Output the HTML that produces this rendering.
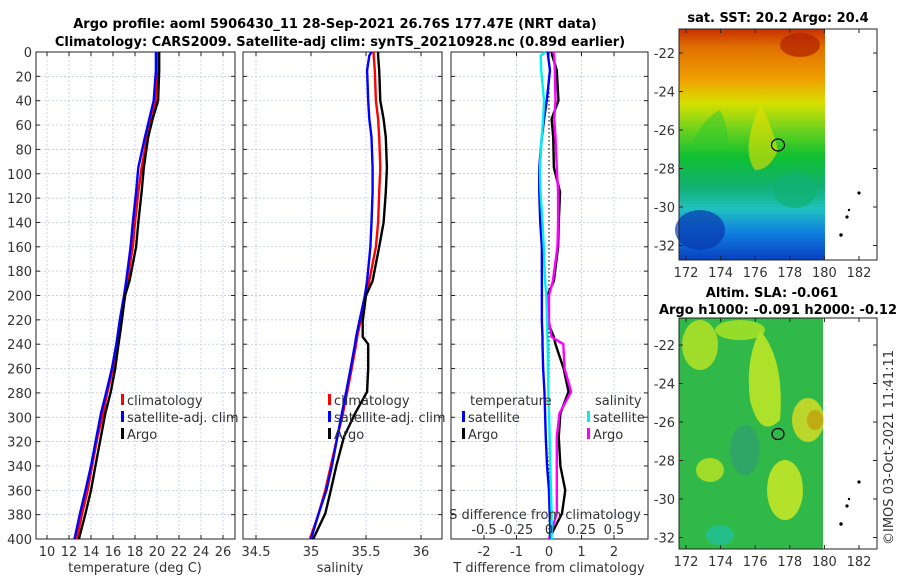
<!DOCTYPE html>
<html><head><meta charset="utf-8">
<style>
body{margin:0;background:#fff;}
svg{display:block;font-family:"DejaVu Sans","Liberation Sans",sans-serif;}
.t{font-size:13px;fill:#333;}
.b{font-size:13px;font-weight:bold;fill:#000;}
.grid{stroke:#b8c0e0;stroke-width:0.7;stroke-dasharray:2,2;}
</style></head><body>
<svg id="fig" width="900" height="580" viewBox="0 0 900 580">
<defs>
<linearGradient id="sstg" x1="0" y1="0" x2="0" y2="1">
<stop offset="0" stop-color="#c83000"/><stop offset="0.08" stop-color="#e07000"/><stop offset="0.22" stop-color="#f0a000"/>
<stop offset="0.32" stop-color="#d8e000"/><stop offset="0.45" stop-color="#60d020"/><stop offset="0.55" stop-color="#10c030"/>
<stop offset="0.68" stop-color="#10b070"/><stop offset="0.78" stop-color="#20c0c0"/><stop offset="0.88" stop-color="#1080e0"/><stop offset="1" stop-color="#0840c0"/>
</linearGradient>
</defs>
<text class="b" x="335" y="28" text-anchor="middle">Argo profile: aoml 5906430_11 28-Sep-2021 26.76S 177.47E (NRT data)</text>
<text class="b" x="340" y="46" text-anchor="middle">Climatology: CARS2009. Satellite-adj clim: synTS_20210928.nc (0.89d earlier)</text>
<g id="p1"></g>
<g id="p2"></g>
<g id="p3"></g>

<!-- SST map -->
<g>
<text class="b" x="778" y="22" text-anchor="middle">sat. SST: 20.2 Argo: 20.4</text>
<rect x="679" y="29" width="146" height="231" fill="url(#sstg)"/>
<ellipse cx="700" cy="230" rx="25" ry="20" fill="#0838b0" opacity="0.7"/>
<ellipse cx="795" cy="190" rx="22" ry="18" fill="#10b070" opacity="0.7"/>
<path d="M760 105 Q770 120 778 150 Q770 170 755 170 Q740 150 760 105Z" fill="#e8e000" opacity="0.6"/>
<path d="M720 110 Q730 130 728 150 L690 150 Q700 120 720 110Z" fill="#30c830" opacity="0.5"/>
<ellipse cx="800" cy="45" rx="20" ry="12" fill="#b02000" opacity="0.7"/>
<ellipse cx="778" cy="145" rx="6.5" ry="6" fill="none" stroke="#000" stroke-width="1.2"/>
<g fill="#000"><circle cx="859" cy="193" r="1.6"/><circle cx="849" cy="210" r="1.2"/><circle cx="847" cy="217" r="1.6"/><circle cx="841" cy="235" r="1.7"/></g>
<rect x="679" y="29" width="198" height="231" fill="none" stroke="#222" stroke-width="1"/>
<g id="m1ax"></g>
</g>

<!-- SLA map -->
<g>
<text class="b" x="772" y="297" text-anchor="middle">Altim. SLA: -0.061</text>
<text class="b" x="778" y="314" text-anchor="middle">Argo h1000: -0.091 h2000: -0.12</text>
<rect x="679" y="318" width="144" height="231" fill="#30b848"/>
<g opacity="0.75">
<ellipse cx="700" cy="345" rx="18" ry="25" fill="#c8e820"/>
<ellipse cx="740" cy="330" rx="25" ry="10" fill="#b8e820"/>
<path d="M760 330 Q785 360 780 420 Q760 440 750 400 Q745 360 760 330Z" fill="#d8f020"/>
<ellipse cx="808" cy="420" rx="16" ry="22" fill="#e8e020"/>
<ellipse cx="815" cy="420" rx="8" ry="10" fill="#f0a800"/>
<ellipse cx="710" cy="470" rx="14" ry="12" fill="#c8e820"/>
<ellipse cx="785" cy="490" rx="18" ry="30" fill="#e0f020"/>
<ellipse cx="720" cy="535" rx="14" ry="10" fill="#20c0a0"/>
<ellipse cx="745" cy="450" rx="15" ry="25" fill="#30a070"/>
</g>
<ellipse cx="778" cy="434" rx="6" ry="5.5" fill="none" stroke="#000" stroke-width="1.2"/>
<g fill="#000"><circle cx="859" cy="482" r="1.6"/><circle cx="849" cy="499" r="1.2"/><circle cx="847" cy="506" r="1.6"/><circle cx="841" cy="524" r="1.7"/></g>
<rect x="679" y="318" width="198" height="231" fill="none" stroke="#222" stroke-width="1"/>
<g id="m2ax"></g>
</g>
<text class="t" x="893" y="545" transform="rotate(-90 893 545)">©IMOS 03-Oct-2021 11:41:11</text>
</svg>
<script>
// ---- data ----
const depthTicks=[0,20,40,60,80,100,120,140,160,180,200,220,240,260,280,300,320,340,360,380,400];
const tempTicks=[10,12,14,16,18,20,22,24,26];
const salTicks=[34.5,35,35.5,36];
const tdiffTicks=[-2,-1,0,1,2];
const sdiffTickLabels=["-0.5","-0.25","0","0.25","0.5"];
const sdiffTicks=[-0.5,-0.25,0,0.25,0.5];
const depths=[0,3,15,40,55,70,95,115,140,160,188,200,221,234,240,260,279,297,316,340,360,379,400];
const tempArgo=[20.2,20.2,20.2,20.1,19.6,19.2,18.8,18.6,18.3,18.1,17.5,17.1,16.8,16.6,16.5,16.2,15.8,15.3,14.9,14.4,14.0,13.5,12.9];
const tempClim=[20.0,20.0,20.0,19.9,19.5,19.1,18.6,18.3,18.0,17.8,17.3,17.1,16.7,16.5,16.4,16.0,15.5,15.1,14.6,14.1,13.7,13.2,12.7];
const tempSat=[19.9,19.9,19.9,19.7,19.3,18.9,18.3,18.1,17.8,17.6,17.2,17.0,16.6,16.4,16.3,15.9,15.4,14.9,14.5,14.0,13.5,13.0,12.5];
const salArgo=[35.61,35.61,35.62,35.63,35.66,35.68,35.69,35.68,35.66,35.62,35.56,35.50,35.47,35.47,35.52,35.52,35.51,35.40,35.30,35.23,35.18,35.13,35.02];
const salClim=[35.57,35.57,35.58,35.59,35.61,35.62,35.63,35.62,35.61,35.59,35.53,35.50,35.45,35.42,35.41,35.37,35.33,35.29,35.24,35.18,35.13,35.07,34.99];
const salSat=[35.55,35.53,35.51,35.52,35.53,35.55,35.56,35.56,35.55,35.54,35.51,35.49,35.44,35.41,35.40,35.36,35.32,35.28,35.24,35.19,35.14,35.07,35.00];
const tdiffArgo=[0.08,0.1,0.24,0.29,0.08,0.13,0.15,0.34,0.3,0.28,0.15,-0.05,-0.05,0.15,0.2,0.45,0.6,0.35,0.3,0.35,0.5,0.4,0.0];
const tdiffSat=[-0.04,-0.03,0.03,-0.07,-0.15,-0.22,-0.3,-0.3,-0.27,-0.22,-0.22,-0.22,-0.22,-0.2,-0.2,-0.18,-0.14,-0.12,-0.1,-0.06,0.0,0.02,0.05];
const sdiffArgo=[0.033,0.04,0.045,0.05,0.04,0.05,0.06,0.07,0.07,0.065,0.03,0.0,0.0,0.02,0.11,0.12,0.17,0.08,0.06,0.06,0.06,0.06,0.0];
const sdiffSat=[-0.03,-0.064,-0.06,-0.038,-0.045,-0.056,-0.07,-0.065,-0.05,-0.04,-0.03,-0.02,-0.015,-0.012,-0.01,-0.008,-0.005,0.0,0.005,0.01,0.015,0.02,0.02];
const lonTicks=[172,174,176,178,180,182];
const latTicks=[-22,-24,-26,-28,-30,-32];

const NS='http://www.w3.org/2000/svg';
function mk(tag,attrs,parent,txt){const e=document.createElementNS(NS,tag);for(const k in attrs)e.setAttribute(k,attrs[k]);if(txt!==undefined)e.textContent=txt;parent.appendChild(e);return e;}
const Y0=52,Y1=539;
const yD=d=>Y0+(Y1-Y0)*d/400;

function panel(g,x0,x1,xs,xticks,xlabels,showY){
  depthTicks.forEach(d=>{
    const l=mk('line',{x1:x0,x2:x1,y1:yD(d),y2:yD(d),class:'grid'},g);
    
    
    mk('line',{x1:x0,x2:x0+4,y1:yD(d),y2:yD(d),stroke:'#222'},g);
    mk('line',{x1:x1-4,x2:x1,y1:yD(d),y2:yD(d),stroke:'#222'},g);
    if(showY){const t=mk('text',{x:x0-4,y:yD(d)+5,'text-anchor':'end',class:'t'},g,String(d));
      
      }
  });
  xticks.forEach((v,i)=>{
    const x=xs(v);
    mk('line',{x1:x,x2:x,y1:Y0,y2:Y1,class:'grid'},g);
    mk('line',{x1:x,x2:x,y1:Y1-4,y2:Y1,stroke:'#222'},g);
    mk('line',{x1:x,x2:x,y1:Y0,y2:Y0+4,stroke:'#222'},g);
    if(xlabels){const t=mk('text',{x:x,y:556,'text-anchor':'middle',class:'t'},g,xlabels[i]);
      
      }
  });
  mk('rect',{x:x0,y:Y0,width:x1-x0,height:Y1-Y0,fill:'none',stroke:'#222'},g);
}
function line(g,vals,xs,color,name){
  const p=mk('polyline',{points:vals.map((v,i)=>xs(v)+','+yD(depths[i])).join(' '),fill:'none',stroke:color,'stroke-width':2.4,'stroke-linejoin':'round'},g);
  
  
}
function legend(g,x,y,items){
  items.forEach((it,i)=>{
    mk('rect',{x:x,y:y+i*17-11,width:3,height:11,fill:it[1]},g);
    const t=mk('text',{x:x+6,y:y+i*17,class:'t'},g,it[0]);
    
    
  });
}
// panel 1
const g1=document.getElementById('p1');
const xT=v=>47+(v-10)*11;
panel(g1,36,235,xT,tempTicks,tempTicks.map(String),true);
line(g1,tempClim,xT,'#f00','temp-climatology-line');
line(g1,tempSat,xT,'#00f','temp-satellite-line');
line(g1,tempArgo,xT,'#000','temp-argo-line');
legend(g1,121,405,[['climatology','#f00'],['satellite-adj. clim','#00f'],['Argo','#000']]);
mk('text',{x:135,y:572,'text-anchor':'middle',class:'t',},g1,'temperature (deg C)');
// panel 2
const g2=document.getElementById('p2');
const xS=v=>311+(v-35)*110;
panel(g2,243,442,xS,salTicks,salTicks.map(String),false);
line(g2,salClim,xS,'#f00','sal-climatology-line');
line(g2,salSat,xS,'#00f','sal-satellite-line');
line(g2,salArgo,xS,'#000','sal-argo-line');
legend(g2,328,405,[['climatology','#f00'],['satellite-adj. clim','#00f'],['Argo','#000']]);
mk('text',{x:340,y:572,'text-anchor':'middle',class:'t',},g2,'salinity');
// panel 3
const g3=document.getElementById('p3');
const xD=v=>549+v*32.5;
const xSD=v=>549+v*130;
panel(g3,451,648,xD,tdiffTicks,tdiffTicks.map(String),false);
mk('line',{x1:549,x2:549,y1:Y0,y2:Y1,stroke:'#000','stroke-dasharray':'1.5,2.5'},g3);
line(g3,tdiffArgo,xD,'#000','tdiff-argo-line');
line(g3,sdiffArgo,xSD,'#f0f','sdiff-argo-line');
line(g3,tdiffSat,xD,'#00f','tdiff-satellite-line');
line(g3,sdiffSat,xSD,'#0ee','sdiff-satellite-line');
mk('text',{x:470,y:405,class:'t',},g3,'temperature');
legend(g3,462,422,[['satellite','#00f'],['Argo','#000']]);
mk('text',{x:595,y:405,class:'t',},g3,'salinity');
legend(g3,587,422,[['satellite','#0ee'],['Argo','#f0f']]);
mk('text',{x:545,y:519,'text-anchor':'middle',class:'t',},g3,'S difference from climatology');
sdiffTicks.forEach((v,i)=>{const t=mk('text',{x:xSD(v),y:534,'text-anchor':'middle',class:'t'},g3,sdiffTickLabels[i]);
  
  });
mk('text',{x:549,y:572,'text-anchor':'middle',class:'t',},g3,'T difference from climatology');
// map axes
function mapAxes(id,top,bot,lat22){
  const g=document.getElementById(id);
  const xl=v=>686+(v-172)*17.3;
  const yl=v=>lat22+(-22-v)*19.25;
  lonTicks.forEach(v=>{mk('line',{x1:xl(v),x2:xl(v),y1:bot-4,y2:bot,stroke:'#222'},g);mk('line',{x1:xl(v),x2:xl(v),y1:top,y2:top+4,stroke:'#222'},g);
    const t=mk('text',{x:xl(v),y:bot+17,'text-anchor':'middle',class:'t'},g,String(v));
    
    });
  latTicks.forEach(v=>{mk('line',{x1:679,x2:683,y1:yl(v),y2:yl(v),stroke:'#222'},g);mk('line',{x1:873,x2:877,y1:yl(v),y2:yl(v),stroke:'#222'},g);
    const t=mk('text',{x:675,y:yl(v)+5,'text-anchor':'end',class:'t'},g,String(v));
    
    });
}
mapAxes('m1ax',29,260,53);
mapAxes('m2ax',318,549,345);
</script>
</body></html>
